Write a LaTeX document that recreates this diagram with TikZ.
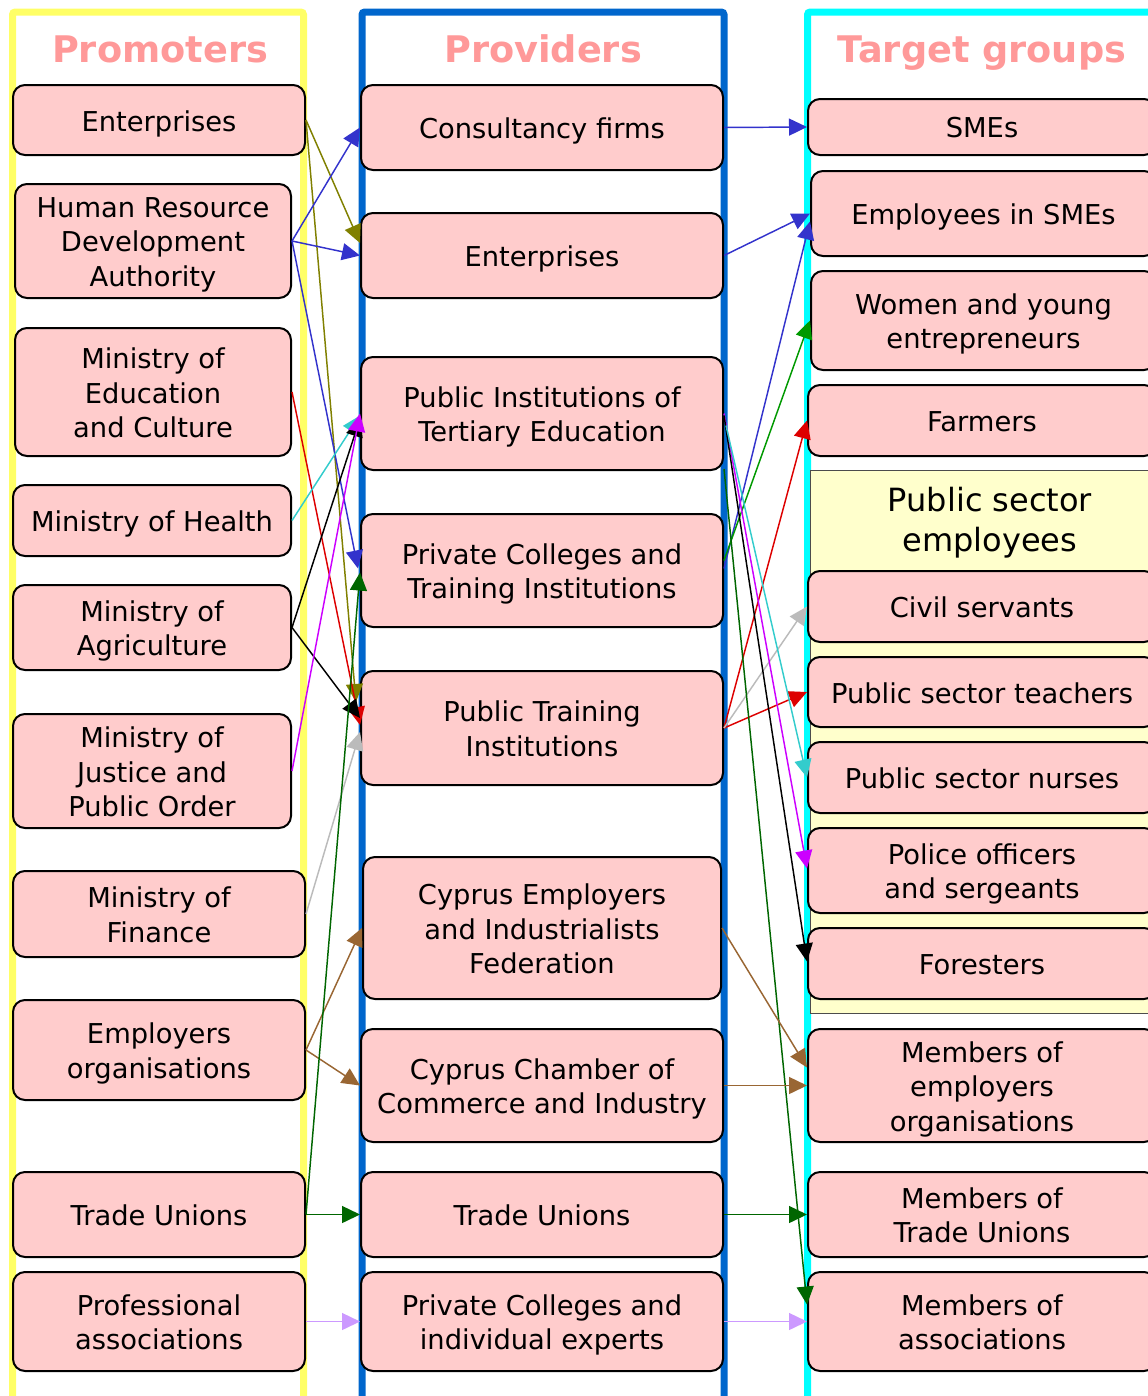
\documentclass[tikz,border=0pt]{standalone}
\usepackage{fontspec}
\setmainfont{DejaVu Sans}
\usetikzlibrary{arrows.meta,calc}
\newdimen\pu \pu=0.75pt
\definecolor{boxpink}{HTML}{FFCCCC}
\definecolor{titlepink}{HTML}{FF9999}
\definecolor{fryellow}{HTML}{FFFF66}
\definecolor{frblue}{HTML}{0066CC}
\definecolor{frcyan}{HTML}{00FFFF}
\definecolor{grpyellow}{HTML}{FFFFCC}
\definecolor{colive}{HTML}{808000}
\definecolor{cblue}{HTML}{3333CC}
\definecolor{cred}{HTML}{DD0000}
\definecolor{ccyan}{HTML}{33CCCC}
\definecolor{cmag}{HTML}{CC00FF}
\definecolor{cgray}{HTML}{BBBBBB}
\definecolor{cbrown}{HTML}{996633}
\definecolor{cdgreen}{HTML}{006600}
\definecolor{cgreen}{HTML}{009900}
\definecolor{clav}{HTML}{CC99FF}
\newcommand\mkbox[6]{\node[pbox, minimum width=#4\pu, minimum height=#5\pu] (#1) at (#2,#3) {};
  \node[btext] (#1t) at ($(#1.center)+(0,3.5)$) {#6\vphantom{Mp}};}
\begin{document}
\begin{tikzpicture}[x=0.75pt,y=-0.75pt,
  pbox/.style={draw=black, line width=1.5pt, fill=boxpink, rounded corners=9pt, inner sep=0pt},
  btext/.style={align=center, inner sep=0pt, font=\fontsize{20.5pt}{25.9pt}\selectfont},
  frame/.style={line width=5.25pt, rounded corners=2pt},
  ttl/.style={text=titlepink, font=\fontsize{27.5pt}{33pt}\selectfont\bfseries},
  arr/.style={line width=1.1pt, -{Triangle[length=13.5pt,width=12.75pt]}}]
\useasboundingbox (0,0) rectangle (1148,1396);
% frames
\draw[frame, fryellow] (12.5,1420) -- (12.5,12) -- (303.5,12) -- (303.5,1420);
\draw[frame, frblue] (362,1420) -- (362,12) -- (724,12) -- (724,1420);
\draw[frame, frcyan] (807.5,1420) -- (807.5,12) -- (1170,12);
% titles
\node[ttl] (tp) at (160,53) {Promoters\vphantom{g}};
\node[ttl] (tv) at (543,53) {Providers\vphantom{g}};
\node[ttl] (tt) at (982,53) {Target groups};
% public sector group
\node[draw=black!70, line width=0.5pt, fill=grpyellow, minimum width=350\pu, minimum height=543\pu, inner sep=0pt] (grp) at (985,741.5) {};
\node[align=center, font=\fontsize{24pt}{30pt}\selectfont] (grpt) at (990,523) {Public sector\\employees};
% promoters
\mkbox{pe}{159}{120}{292}{70}{Enterprises}
\mkbox{phr}{153}{241}{276}{114}{Human Resource\\Development\\Authority}
\mkbox{pmec}{153}{392}{276}{128}{Ministry of\\Education\\and Culture}
\mkbox{pmh}{152}{520.5}{278}{71}{Ministry of Health}
\mkbox{pma}{152}{627.5}{278}{85}{Ministry of\\Agriculture}
\mkbox{pmj}{152}{771}{278}{114}{Ministry of\\Justice and\\Public Order}
\mkbox{pmf}{159}{914}{292}{86}{Ministry of\\Finance}
\mkbox{peo}{159}{1050}{292}{100}{Employers\\organisations}
\mkbox{ptu}{159}{1214.5}{292}{85}{Trade Unions}
\mkbox{ppa}{159}{1321.5}{292}{99}{Professional\\associations}
% providers
\mkbox{vcf}{542}{127.5}{362}{85}{Consultancy firms}
\mkbox{ve}{542}{255.5}{362}{85}{Enterprises}
\mkbox{vpi}{542}{413.5}{362}{113}{Public Institutions of\\Tertiary Education}
\mkbox{vpc}{542}{570.5}{362}{113}{Private Colleges and\\Training Institutions}
\mkbox{vpt}{542}{728}{362}{114}{Public Training\\Institutions}
\mkbox{vce}{542}{928}{358}{142}{Cyprus Employers\\and Industrialists\\Federation}
\mkbox{vcc}{542}{1085.5}{362}{113}{Cyprus Chamber of\\Commerce and Industry}
\mkbox{vtu}{542}{1214.5}{362}{85}{Trade Unions}
\mkbox{vpx}{542}{1321.5}{362}{99}{Private Colleges and\\individual experts}
% targets
\mkbox{tsme}{982}{127}{348}{56}{SMEs}
\mkbox{temp}{983.5}{213.5}{345}{85}{Employees in SMEs}
\mkbox{twom}{983.5}{320.5}{345}{99}{Women and young\\entrepreneurs}
\mkbox{tfar}{982}{420.5}{348}{71}{Farmers}
\mkbox{tciv}{982}{606.5}{348}{71}{Civil servants}
\mkbox{ttea}{982}{692}{348}{70}{Public sector teachers}
\mkbox{tnur}{982}{777.5}{348}{71}{Public sector nurses}
\mkbox{tpol}{982}{870.5}{348}{85}{Police officers\\and sergeants}
\mkbox{tfor}{982}{963.5}{348}{71}{Foresters}
\mkbox{tmeo}{982}{1085.5}{348}{113}{Members of\\employers\\organisations}
\mkbox{tmtu}{982}{1214.5}{348}{85}{Members of\\Trade Unions}
\mkbox{tmas}{982}{1321.5}{348}{99}{Members of\\associations}
% promoters -> providers
\draw[arr, colive] (pe.east) -- ($(ve.west)+(0,-12.5)$);
\draw[arr, colive] (pe.east) -- ($(vpt.west)+(-4,-26)$);
\draw[arr, cblue] (phr.east) -- (vcf.west);
\draw[arr, cblue] (phr.east) -- (ve.west);
\draw[arr, cblue] (phr.east) -- ($(vpc.west)+(-2,-2)$);
\draw[arr, cred] (pmec.east) -- ($(vpt.west)+(0,-3)$);
\draw[arr, ccyan] (pmh.east) -- ($(vpi.west)+(0,2)$);
\draw[arr, black] (pma.east) -- ($(vpi.west)+(0,5)$);
\draw[arr, black] (pma.east) -- ($(vpt.west)+(0,-10)$);
\draw[arr, cmag] (pmj.east) -- (vpi.west);
\draw[arr, cgray] (pmf.east) -- ($(vpt.west)+(0,4)$);
\draw[arr, cbrown] (peo.east) -- (vce.west);
\draw[arr, cbrown] (peo.east) -- (vcc.west);
\draw[arr, cdgreen] (ptu.east) -- (vtu.west);
\draw[arr, cdgreen] (ptu.east) -- ($(vpc.west)+(0,2)$);
\draw[arr, clav] (ppa.east) -- (vpx.west);
% providers -> targets
\draw[arr, cblue] (vcf.east) -- (tsme.west);
\draw[arr, cblue] (ve.east) -- (temp.west);
\draw[arr, cblue] ($(vpc.east)+(0,-2)$) -- ($(temp.west)+(0,8)$);
\draw[arr, cgreen] ($(vpc.east)+(0,-10)$) -- (twom.west);
\draw[arr, cred] (vpt.east) -- (tfar.west);
\draw[arr, cred] (vpt.east) -- (ttea.west);
\draw[arr, cgray] (vpt.east) -- (tciv.west);
\draw[arr, cmag] (vpi.east) -- ($(tpol.west)+(0,-2)$);
\draw[arr, black] ($(vpi.east)+(0,2)$) -- ($(tfor.west)+(0,-2)$);
\draw[arr, ccyan] ($(vpi.east)+(2,12)$) -- (tnur.west);
\draw[arr, cdgreen] ($(vpi.south east)+(0,-2)$) -- ($(tmas.west)+(0,-17)$);
\draw[arr, cbrown] (vce.east) -- ($(tmeo.west)+(0,-18)$);
\draw[arr, cbrown] (vcc.east) -- (tmeo.west);
\draw[arr, cdgreen] (vtu.east) -- (tmtu.west);
\draw[arr, clav] (vpx.east) -- (tmas.west);
\end{tikzpicture}
\end{document}
